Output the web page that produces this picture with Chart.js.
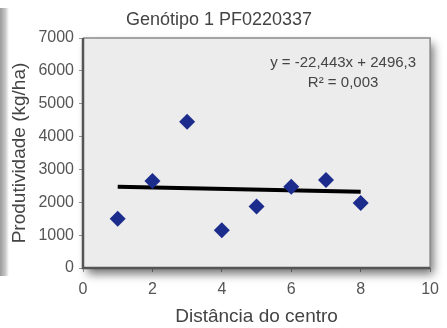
<!DOCTYPE html>
<html>
<head>
<meta charset="utf-8">
<script src="https://cdn.jsdelivr.net/npm/chart.js@4"></script>
<style>
  html, body { margin: 0; padding: 0; background: #fff; }
  #wrap { position: relative; width: 447px; height: 328px; }
  #edge {
    position: absolute; left: 0; top: 8px; width: 9px; height: 268px;
    background: linear-gradient(to right, #9a9a9a, #c8c8c8 60%, #fff);
  }
  canvas { position: absolute; left: 0; top: 0; }
</style>
</head>
<body>
<div id="wrap">
  <div id="edge"></div>
  <canvas id="chart" width="447" height="328"></canvas>
</div>
<script>
const distances = [1, 2, 3, 4, 5, 6, 7, 8];
const yields = [1500, 2650, 4450, 1150, 1870, 2470, 2680, 1980];
const trendX = [1, 8];
const trendY = [2474, 2317];
const xTicks = [0, 2, 4, 6, 8, 10];
const yTicks = [0, 1000, 2000, 3000, 4000, 5000, 6000, 7000];
const equationLines = ["y = -22,443x + 2496,3", "R² = 0,003"];

const textColor = "#555";
const fontFamily = "'Liberation Sans', Arial, sans-serif";

// plot background with border and drop shadow
const plotFrame = {
  id: "plotFrame",
  beforeDatasetsDraw(chart) {
    const { ctx, chartArea: a } = chart;
    ctx.save();
    ctx.shadowColor = "rgba(0,0,0,0.55)";
    ctx.shadowBlur = 9;
    ctx.shadowOffsetX = 4;
    ctx.shadowOffsetY = 6;
    ctx.fillStyle = "#ececec";
    ctx.fillRect(a.left, a.top, a.right - a.left, a.bottom - a.top);
    ctx.restore();

    ctx.save();
    ctx.lineWidth = 1.5;
    ctx.strokeStyle = "#8a8a8a";
    ctx.beginPath();
    ctx.moveTo(a.left, a.top);
    ctx.lineTo(a.right, a.top);
    ctx.lineTo(a.right, a.bottom);
    ctx.stroke();
    ctx.lineWidth = 2.5;
    ctx.strokeStyle = "#555";
    ctx.beginPath();
    ctx.moveTo(a.left, a.top);
    ctx.lineTo(a.left, a.bottom);
    ctx.lineTo(a.right, a.bottom);
    ctx.stroke();
    ctx.restore();
  },
  afterDatasetsDraw(chart) {
    const { ctx, chartArea: a } = chart;
    ctx.save();
    ctx.fillStyle = "#444";
    ctx.font = "15px " + fontFamily;
    ctx.textAlign = "center";
    ctx.textBaseline = "middle";
    ctx.fillText(equationLines[0], a.right - 87, a.top + 25);
    ctx.fillText(equationLines[1], a.right - 87, a.top + 45);
    ctx.restore();
  },
};

new Chart(document.getElementById("chart"), {
  type: "scatter",
  data: {
    datasets: [
      {
        label: "Produtividade",
        data: distances.map((d, i) => ({ x: d, y: yields[i] })),
        pointStyle: "rectRot",
        pointRadius: 8,
        pointHoverRadius: 8,
        backgroundColor: "#1c2c8c",
        borderColor: "#1c2c8c",
        borderWidth: 0,
        order: 1,
      },
      {
        type: "line",
        label: "Tendência",
        data: trendX.map((d, i) => ({ x: d, y: trendY[i] })),
        borderColor: "#000",
        borderWidth: 4,
        pointRadius: 0,
        fill: false,
        order: 2,
      },
    ],
  },
  options: {
    responsive: false,
    animation: false,
    layout: { padding: { top: 0, right: 9, bottom: 0, left: 0 } },
    scales: {
      x: {
        type: "linear",
        min: 0,
        max: 10,
        afterBuildTicks: (scale) => {
          scale.ticks = xTicks.map((v) => ({ value: v }));
        },
        afterFit: (scale) => {
          scale.height = 60;
        },
        grid: { drawOnChartArea: false, drawTicks: true, tickLength: 4, color: "#999" },
        border: { display: false },
        ticks: {
          color: textColor,
          padding: 8,
          font: { size: 16, family: fontFamily },
          callback: (value) => String(value),
        },
        title: {
          display: true,
          text: "Distância do centro",
          color: "#444",
          padding: { top: 0, bottom: 0 },
          font: { size: 19, family: fontFamily },
        },
      },
      y: {
        type: "linear",
        min: 0,
        max: 7000,
        afterBuildTicks: (scale) => {
          scale.ticks = yTicks.map((v) => ({ value: v }));
        },
        afterFit: (scale) => {
          scale.width = 83;
        },
        grid: { drawOnChartArea: false, drawTicks: true, tickLength: 4, color: "#999" },
        border: { display: false },
        ticks: {
          color: textColor,
          padding: 5,
          font: { size: 16, family: fontFamily },
          callback: (value) => String(value),
        },
        title: {
          display: true,
          text: "Produtividade (kg/ha)",
          color: "#444",
          padding: { top: 8, bottom: 0 },
          font: { size: 19, family: fontFamily },
        },
      },
    },
    plugins: {
      legend: { display: false },
      tooltip: { enabled: false },
      title: {
        display: true,
        text: "Genótipo 1 PF0220337",
        color: "#444",
        padding: { top: 9, bottom: 7.4 },
        font: { size: 18, weight: "normal", family: fontFamily },
      },
    },
  },
  plugins: [plotFrame],
});
</script>
</body>
</html>
